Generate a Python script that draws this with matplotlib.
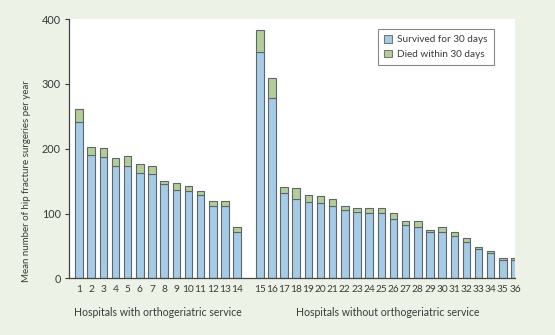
import numpy as np
import matplotlib.pyplot as plt

hospitals = [str(i) for i in range(1, 37)]
survived = [241, 190, 188, 174, 174, 163, 161, 145, 137, 135, 129, 112, 111, 71,
            349, 279, 132, 123, 118, 116, 112, 105, 102, 101, 101, 92, 82, 80, 71, 71,
            66, 56, 45, 39, 29, 29]
total = [262, 203, 201, 186, 189, 176, 174, 151, 147, 143, 135, 119, 120, 79,
         383, 309, 141, 139, 128, 127, 122, 111, 109, 109, 109, 101, 89, 88, 74, 79,
         72, 63, 49, 43, 32, 31]
died = [t - s for t, s in zip(total, survived)]
n_with = 14
group_labels = ['Hospitals with orthogeriatric service',
                'Hospitals without orthogeriatric service']

plt.rcParams['font.family'] = ['Lato', 'DejaVu Sans']

bg = '#edf2e6'
blue = '#a6cbe6'
green = '#b3cd98'
edge = '#5d676b'
txt = '#3a3a3a'

x = np.arange(len(hospitals), dtype=float)
x[n_with:] += 0.87

fig = plt.figure(figsize=(5.55, 3.35), dpi=100, facecolor=bg)
ax = fig.add_axes([0.1243, 0.169, 0.8037, 0.774])
ax.set_facecolor('white')

w = 0.62
ax.bar(x, survived, width=w, color=blue, edgecolor=edge, linewidth=0.8,
       label='Survived for 30 days')
ax.bar(x, died, width=w, bottom=survived, color=green, edgecolor=edge,
       linewidth=0.8, label='Died within 30 days')

ax.set_xlim(-0.83, 35.37)
ax.set_ylim(0, 400)
ax.set_yticks([0, 100, 200, 300, 400])
ax.set_xticks(x)
ax.set_xticklabels(hospitals)
ax.tick_params(axis='x', length=0, pad=5, labelsize=7.3, colors=txt)
ax.tick_params(axis='y', length=3, width=0.8, pad=3, labelsize=7.8, colors=txt)
for s in ['top', 'right']:
    ax.spines[s].set_visible(False)
for s in ['left', 'bottom']:
    ax.spines[s].set_color('#444444')
    ax.spines[s].set_linewidth(0.9)

ax.set_ylabel('Mean number of hip fracture surgeries per year', fontsize=7.0,
              color=txt, labelpad=9)
ax.yaxis.set_label_coords(-0.085, 0.375)

mid_with = x[:n_with].mean()
mid_without = x[n_with:].mean()
for xm, lab in zip([mid_with, mid_without], group_labels):
    ax.text(xm, -0.13, lab, transform=ax.get_xaxis_transform(), ha='center',
            va='center', fontsize=7.6, color=txt)

leg = ax.legend(loc='upper right', bbox_to_anchor=(0.964, 0.981), fontsize=7.2,
                fancybox=False, edgecolor='#888888', handlelength=0.8,
                handleheight=0.8, handletextpad=0.5, borderpad=0.6,
                labelspacing=0.55, framealpha=1)
leg.get_frame().set_linewidth(0.8)
for h in leg.legend_handles:
    h.set_edgecolor('#777777')
for t in leg.get_texts():
    t.set_color(txt)

plt.savefig('out.png', dpi=100, facecolor=bg)
